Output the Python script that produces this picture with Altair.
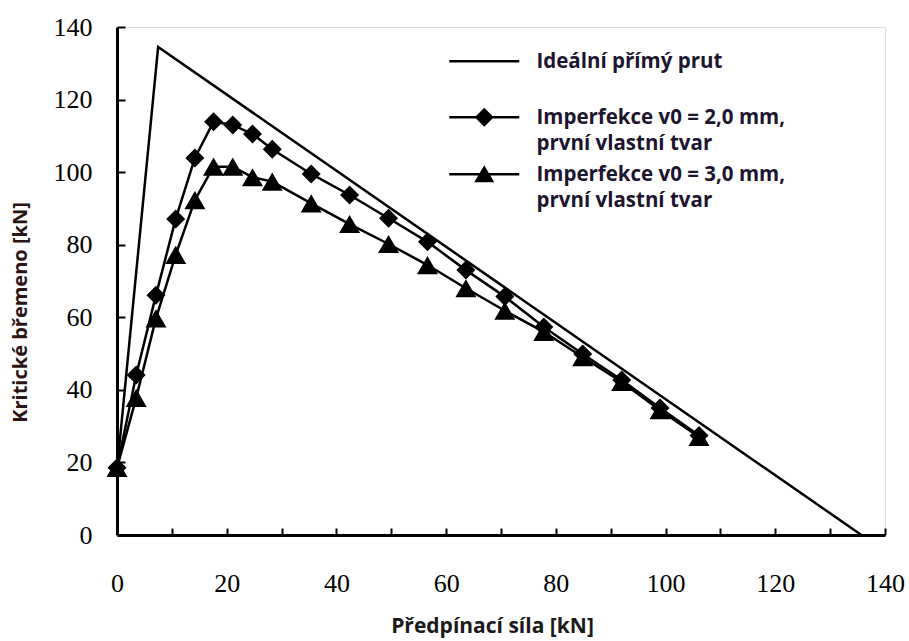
import altair as alt
import pandas as pd

# ---- data ----
series_names = [
    "Ideální přímý prut",
    "Imperfekce v0 = 2,0 mm,|první vlastní tvar",
    "Imperfekce v0 = 3,0 mm,|první vlastní tvar",
]
x_ideal = [0, 7.5, 135.7]
y_ideal = [18, 134.5, 0]
x_imp = [0, 3.5, 7.1, 10.7, 14.2, 17.6, 21.1, 24.7, 28.3, 35.4, 42.4, 49.5,
         56.6, 63.6, 70.7, 77.8, 84.9, 92.0, 99.0, 106.1]
y_v2 = [18.5, 44.1, 66.1, 87.1, 103.9, 113.9, 113.0, 110.5, 106.3, 99.5, 93.7,
        87.3, 80.8, 73.0, 65.7, 57.3, 49.9, 42.7, 35.0, 27.4]
y_v3 = [18.5, 37.8, 59.7, 77.2, 92.3, 101.5, 101.5, 98.6, 97.4, 91.4, 85.7,
        80.2, 74.4, 68.0, 61.8, 56.0, 49.0, 42.2, 34.4, 27.0]
x_ticks_major = [0, 20, 40, 60, 80, 100, 120, 140]
x_ticks_minor = [10, 20, 30, 40, 50, 60, 70, 80, 90, 100, 110, 120, 130, 140]
y_ticks = [0, 20, 40, 60, 80, 100, 120, 140]
y_ticks_minor = [20, 40, 60, 80, 100, 120, 140]

ideal = pd.DataFrame({"x": x_ideal, "y": y_ideal, "series": series_names[0]})
v2 = pd.DataFrame({"x": x_imp, "y": y_v2, "series": series_names[1]})
v3 = pd.DataFrame({"x": x_imp, "y": y_v3, "series": series_names[2]})
imp = pd.concat([v2, v3], ignore_index=True)
alld = pd.concat([ideal, v2, v3], ignore_index=True)

xs = alt.Scale(domain=[0, 140], nice=False, zero=False)
ys = alt.Scale(domain=[0, 140], nice=False, zero=False)

serif = "Liberation Serif"
sans = "Open Sans"

main_x_axis = alt.Axis(orient="bottom", values=x_ticks_major, ticks=False,
                       grid=False, domainColor="black", domainWidth=3,
                       labelFont=serif, labelFontSize=26, labelColor="black",
                       labelPadding=35, labelFlush=False,
                       title="Předpínací síla [kN]", titleFont=sans,
                       titleFontWeight="bold", titleFontSize=21,
                       titleColor="#1a1a1a", titleX=375, titleY=80,
                       titleAlign="center", titleBaseline="top")
main_y_axis = alt.Axis(orient="left", values=y_ticks, ticks=False, grid=False,
                       domainColor="black", domainWidth=3,
                       labelFont=serif, labelFontSize=26, labelColor="black",
                       labelPadding=25, labelFlush=False,
                       title="Kritické břemeno [kN]", titleFont=sans,
                       titleFontWeight="bold", titleFontSize=20,
                       titleColor="#2b1414", titleX=-97, titleY=285,
                       titleAngle=270, titleAlign="center",
                       titleBaseline="middle")
tick_x_axis = alt.Axis(orient="bottom", values=x_ticks_minor, labels=False,
                       domain=False, grid=False, ticks=True, tickSize=7,
                       tickWidth=2, tickColor="black", offset=-7, title="")
tick_y_axis = alt.Axis(orient="left", values=y_ticks_minor, labels=False,
                       domain=False, grid=False, ticks=True, tickSize=8,
                       tickWidth=2, tickColor="black", offset=-8, title="")

ideal_line = alt.Chart(ideal).mark_line(color="black", strokeWidth=2.5).encode(
    x=alt.X("x:Q", scale=xs, axis=main_x_axis),
    y=alt.Y("y:Q", scale=ys, axis=main_y_axis),
)

imp_lines = alt.Chart(imp).mark_line(color="black", strokeWidth=2.5).encode(
    x=alt.X("x:Q", scale=xs, axis=tick_x_axis),
    y=alt.Y("y:Q", scale=ys, axis=tick_y_axis),
    detail="series:N",
)

diamonds = alt.Chart(v2).mark_point(shape="diamond", filled=True, size=361,
                                    color="black", opacity=1).encode(
    x=alt.X("x:Q", scale=xs, axis=None),
    y=alt.Y("y:Q", scale=ys, axis=None),
)

triangles = alt.Chart(v3).mark_point(shape="triangle-up", filled=True, size=441,
                                     color="black", opacity=1).encode(
    x=alt.X("x:Q", scale=xs, axis=None),
    y=alt.Y("y:Q", scale=ys, axis=None),
)

pad = "M0,-0.4M0,4.5"
bar = "M-3.5,0.78H3.5V1.02H-3.5Z"
legend_paths = [
    bar + pad,
    bar + "M0,-0.05L0.95,0.9L0,1.85L-0.95,0.9Z" + pad,
    bar + "M0,0L1,1.7L-1,1.7Z" + pad,
]

legend_layer = alt.Chart(alld).mark_point(filled=True, color="black",
                                          opacity=0).encode(
    x=alt.X("x:Q", scale=xs, axis=None),
    y=alt.Y("y:Q", scale=ys, axis=None),
    shape=alt.Shape(
        "series:N",
        scale=alt.Scale(domain=series_names, range=legend_paths),
        legend=alt.Legend(
            title=None, orient="none", legendX=333, legendY=15,
            symbolSize=400, symbolStrokeWidth=0, symbolFillColor="black",
            symbolStrokeColor="black", symbolOpacity=1, symbolOffset=24,
            labelFont=sans, labelFontWeight="bold", labelFontSize=20.5,
            labelColor="#1d1530", labelBaseline="top",
            labelOffset=42, labelLimit=400, rowPadding=0, padding=0,
            labelExpr="split(datum.label, '|')",
        ),
    ),
)

chart = alt.layer(
    ideal_line, imp_lines, diamonds, triangles, legend_layer
).resolve_axis(x="independent", y="independent").properties(
    width=768, height=508,
    autosize=alt.AutoSizeParams(type="none"),
    padding={"left": 117, "top": 27, "right": 24, "bottom": 106},
    background="white",
).configure_view(stroke="transparent").configure(
    style={"guide-label": {"lineHeight": 26}}
)

chart.save("out.html", embed_options={"renderer": "svg", "actions": False})
